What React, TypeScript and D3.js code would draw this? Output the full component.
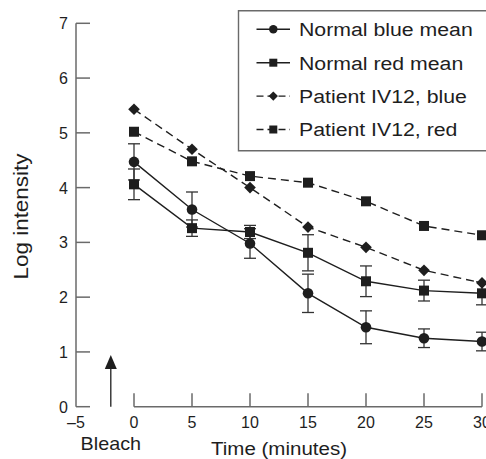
import React from 'react';
import * as d3 from 'd3';

const width = 486;
const height = 459;
const ink = '#1e1e1e';
const axisGrey = '#6a6a6a';
const font = '"Liberation Sans", Arial, sans-serif';

// time after bleach (minutes)
const times = [0, 5, 10, 15, 20, 25, 30];
const normalBlue = [4.47, 3.6, 2.98, 2.07, 1.45, 1.25, 1.19];
const normalBlueErr = [0.33, 0.32, 0.27, 0.35, 0.3, 0.17, 0.17];
const normalRed = [4.06, 3.26, 3.19, 2.81, 2.29, 2.12, 2.07];
const normalRedErr = [0.28, 0.15, 0.12, 0.33, 0.28, 0.19, 0.21];
const patientBlue = [5.43, 4.7, 4.0, 3.28, 2.91, 2.49, 2.26];
const patientRed = [5.02, 4.48, 4.21, 4.09, 3.75, 3.3, 3.13];

const xTicks = [-5, 0, 5, 10, 15, 20, 25, 30];
const yTicks = [0, 1, 2, 3, 4, 5, 6, 7];
const bleachTime = -2;

const legendLabels = ['Normal blue mean', 'Normal red mean', 'Patient IV12, blue', 'Patient IV12, red'];

type Marker = 'circle' | 'square' | 'diamond';

const series = [
  { values: normalBlue, err: normalBlueErr, marker: 'circle' as Marker, dashed: false },
  { values: normalRed, err: normalRedErr, marker: 'square' as Marker, dashed: false },
  { values: patientBlue, err: null, marker: 'diamond' as Marker, dashed: true },
  { values: patientRed, err: null, marker: 'square' as Marker, dashed: true },
];

const x = d3.scaleLinear().domain([-5, 30]).range([76, 482]);
const y = d3.scaleLinear().domain([0, 7]).range([406.7, 23.3]);

function markerPath(m: Marker, scale = 1) {
  if (m === 'circle') return d3.symbol(d3.symbolCircle, 88 * scale * scale)()!;
  if (m === 'square') return d3.symbol(d3.symbolSquare, 100 * scale * scale)()!;
  return d3.symbol(d3.symbolSquare, 68 * scale * scale)()!;
}

function MarkerShape({ m, cx, cy, scale = 1 }: { m: Marker; cx: number; cy: number; scale?: number }) {
  const rot = m === 'diamond' ? ' rotate(45)' : '';
  return <path d={markerPath(m, scale)} transform={`translate(${cx},${cy})${rot}`} fill={ink} />;
}

function Label({ x0, y0, text, size, anchor = 'start', sx = 1.1, rotate = 0 }: any) {
  return (
    <g transform={`translate(${x0},${y0}) rotate(${rotate}) scale(${sx},1)`}>
      <text textAnchor={anchor} fontFamily={font} fontSize={size} fill={ink}>{text}</text>
    </g>
  );
}

export default function App() {
  const line = d3.line<number>().x((_, i) => x(times[i])).y(d => y(d));
  const y0 = y(0);

  return (
    <svg width={width} height={height} style={{ position: 'absolute', left: 0, top: 0, background: '#fff' }}>
      {/* y axis */}
      <g stroke={axisGrey} strokeWidth={1.5} fill="none">
        <line x1={x(-5)} x2={x(-5)} y1={y(0)} y2={y(7)} />
        {yTicks.map(t => <line key={t} x1={x(-5)} x2={x(-5) + 14} y1={y(t)} y2={y(t)} />)}
        <line x1={x(0)} x2={x(30)} y1={y0} y2={y0} />
        {xTicks.filter(t => t >= 0).map(t => <line key={t} x1={x(t)} x2={x(t)} y1={y0} y2={y0 - 13.5} />)}
      </g>
      {yTicks.map(t => (
        <text key={t} x={x(-5) - 8} y={y(t) + 6} textAnchor="end" fontFamily={font} fontSize={16} fill={ink}>{t}</text>
      ))}
      {xTicks.map(t => (
        <text key={t} x={x(t)} y={428} textAnchor="middle" fontFamily={font} fontSize={16} fill={ink}>{t < 0 ? `\u2013${-t}` : t}</text>
      ))}

      {/* bleach arrow */}
      <line x1={x(bleachTime)} x2={x(bleachTime)} y1={y0} y2={366} stroke={ink} strokeWidth={1.3} />
      <path d={`M${x(bleachTime)},${355} l-6,14 l12,0 Z`} fill={ink} />
      <Label x0={x(bleachTime)} y0={450} text="Bleach" size={19} anchor="middle" sx={1.04} />
      <Label x0={279} y0={455} text="Time (minutes)" size={19} anchor="middle" sx={1.08} />
      <Label x0={28} y0={216.5} text="Log intensity" size={19.5} anchor="middle" sx={1.15} rotate={-90} />

      {/* error bars */}
      {series.filter(s => s.err).map((s, si) => (
        <g key={si} stroke="#333" strokeWidth={1.3}>
          {s.values.map((v, i) => {
            const cx = x(times[i]);
            const top = y(v + s.err![i]);
            const bot = y(v - s.err![i]);
            return (
              <g key={i}>
                <line x1={cx} x2={cx} y1={top} y2={bot} />
                <line x1={cx - 6} x2={cx + 6} y1={top} y2={top} />
                <line x1={cx - 6} x2={cx + 6} y1={bot} y2={bot} />
              </g>
            );
          })}
        </g>
      ))}

      {/* lines */}
      {series.map((s, si) => (
        <path key={si} d={line(s.values)!} fill="none" stroke={ink} strokeWidth={1.4} strokeDasharray={s.dashed ? '8,5' : undefined} />
      ))}
      {series.map((s, si) => (
        <g key={si}>
          {s.values.map((v, i) => <MarkerShape key={i} m={s.marker} cx={x(times[i])} cy={y(v)} />)}
        </g>
      ))}

      {/* legend */}
      <path d={`M${width + 2},10.7 H238.5 V150.7 H${width + 2}`} fill="#fff" stroke={axisGrey} strokeWidth={1.4} />
      {series.map((s, i) => {
        const cy = 29.3 + i * 33.4;
        return (
          <g key={i}>
            <line x1={256.5} x2={290} y1={cy} y2={cy} stroke={ink} strokeWidth={1.4} strokeDasharray={s.dashed ? '7,4' : undefined} />
            <MarkerShape m={s.marker} cx={273.3} cy={cy} scale={0.8} />
            <Label x0={299} y0={cy + 6.8} text={legendLabels[i]} size={19} sx={1.12} />
          </g>
        );
      })}
    </svg>
  );
}
